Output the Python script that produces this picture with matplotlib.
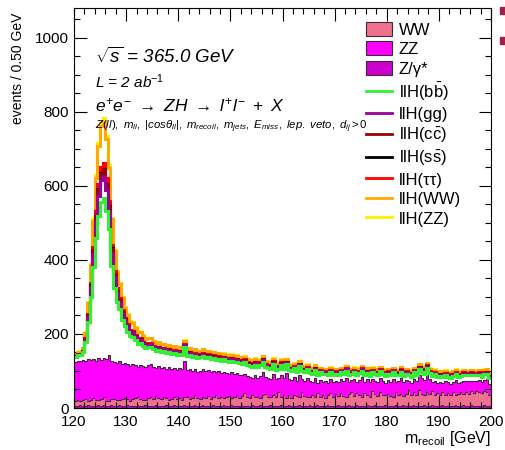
import numpy as np
import matplotlib
matplotlib.use("Agg")
import matplotlib.pyplot as plt
from matplotlib.patches import Patch, Rectangle
from matplotlib.lines import Line2D
from matplotlib.ticker import MultipleLocator

plt.rcParams['font.family'] = ['Liberation Sans', 'DejaVu Sans']
plt.rcParams['mathtext.fontset'] = 'custom'
plt.rcParams['mathtext.rm'] = 'Liberation Sans'
plt.rcParams['mathtext.it'] = 'Liberation Sans:italic'
plt.rcParams['mathtext.bf'] = 'Liberation Sans:bold'

# recoil mass binning, 0.5 GeV bins from 120 to 200
edges = np.arange(120.0, 200.01, 0.5)

# backgrounds (events per bin), stacked bottom -> top: Z/gamma*, WW, ZZ
bkg_zg = [
    6, 5, 7, 6, 5, 7, 6, 6, 5, 7,   6, 7, 5, 6, 7, 5, 6, 7, 6, 5,
    7, 6, 5, 6, 7, 6, 5, 7, 6, 6,   5, 7, 6, 6, 5, 7, 6, 5, 7, 6,
    6, 5, 7, 6, 6, 5, 7, 6, 5, 7,   6, 6, 5, 7, 6, 5, 6, 7, 6, 5,
    7, 6, 5, 6, 7, 6, 5, 6, 7, 6,   5, 7, 6, 5, 6, 7, 6, 5, 6, 7,
    6, 5, 7, 6, 5, 6, 7, 6, 5, 6,   7, 6, 5, 7, 6, 6, 5, 7, 6, 5,
    6, 7, 6, 5, 6, 7, 5, 6, 7, 6,   5, 6, 7, 6, 5, 7, 6, 6, 5, 7,
    6, 5, 6, 7, 6, 5, 7, 6, 6, 5,   7, 6, 5, 6, 7, 6, 5, 7, 6, 6,
    5, 7, 6, 6, 5, 6, 7, 5, 6, 7,   6, 5, 7, 6, 6, 5, 6, 7, 6, 5,
]
bkg_ww = [
    14, 17, 12, 16, 19, 13, 15, 20, 17, 14,   18, 22, 15, 13, 17, 20, 16, 14, 19, 21,
    16, 13, 18, 22, 24, 19, 17, 15, 20, 23,   18, 25, 21, 17, 26, 20, 16, 19, 23, 18,
    20, 17, 22, 25, 19, 23, 28, 21, 18, 24,   22, 26, 19, 24, 30, 21, 25, 19, 23, 27,
    20, 24, 29, 22, 26, 35, 24, 21, 27, 23,   25, 21, 28, 33, 24, 22, 30, 26, 36, 24,
    29, 23, 27, 22, 31, 26, 24, 38, 27, 25,   23, 30, 26, 33, 25, 28, 22, 29, 34, 26,
    31, 25, 35, 28, 24, 30, 38, 27, 33, 29,   26, 34, 29, 25, 40, 30, 27, 36, 31, 28,
    33, 28, 25, 37, 30, 34, 26, 31, 42, 29,   35, 30, 44, 32, 28, 38, 33, 40, 29, 34,
    31, 37, 28, 34, 30, 36, 27, 33, 38, 32,   36, 33, 39, 35, 40, 37, 34, 38, 36, 31,
]
bkg_zz = [
    105, 106, 107, 108, 103, 113, 108, 105, 106, 113,   106, 107, 112, 123, 104, 100, 100, 105, 94, 95,
    95, 95, 97, 88, 81, 92, 91, 88, 89, 89,   89, 76, 86, 86, 80, 79, 88, 80, 78, 79,
    81, 82, 97, 71, 81, 72, 69, 71, 78, 74,   71, 70, 73, 69, 60, 73, 63, 72, 66, 61,
    69, 62, 60, 62, 55, 52, 57, 57, 48, 59,   52, 59, 63, 45, 51, 50, 55, 46, 38, 58,
    45, 66, 44, 47, 47, 41, 59, 33, 42, 50,   42, 33, 50, 27, 44, 37, 46, 32, 37, 39,
    37, 38, 36, 40, 52, 32, 32, 46, 31, 41,   52, 31, 41, 38, 34, 37, 37, 39, 37, 33,
    36, 38, 47, 26, 37, 42, 36, 39, 24, 33,   37, 37, 40, 43, 40, 48, 39, 23, 39, 28,
    35, 23, 39, 29, 31, 29, 41, 30, 26, 35,   30, 34, 28, 31, 27, 33, 29, 31, 35, 30,
]

# llH signal contributions, stacked on top of the background in this order
sig_bb = [
    12, 14, 16, 20, 50, 100, 170, 250, 330, 385,   425, 430, 400, 340, 255, 200, 165, 140, 118, 100,
    88, 80, 73, 67, 62, 58, 55, 52, 50, 48,   46, 45, 44, 43, 42, 42, 41, 41, 40, 40,
    40, 39, 39, 38, 38, 37, 37, 36, 36, 36,   35, 35, 34, 34, 34, 33, 33, 33, 32, 32,
    32, 31, 31, 31, 30, 30, 30, 29, 29, 29,   29, 28, 28, 28, 27, 27, 27, 26, 26, 26,
    26, 25, 25, 25, 24, 24, 24, 23, 23, 23,   22, 22, 22, 21, 21, 21, 20, 20, 20, 20,
    19, 19, 19, 19, 19, 19, 18, 18, 18, 18,   18, 18, 18, 18, 18, 18, 18, 18, 18, 18,
    18, 18, 18, 18, 17, 17, 17, 17, 17, 17,   17, 17, 17, 17, 17, 17, 17, 17, 17, 17,
    16, 16, 16, 16, 16, 16, 16, 16, 16, 16,   16, 16, 16, 16, 16, 15, 15, 15, 15, 15,
]
sig_gg = [
    2, 2, 2, 3, 7, 14, 24, 35, 46, 54,   60, 60, 56, 48, 36, 28, 23, 20, 17, 14,
    12, 11, 10, 9, 8, 8, 7, 7, 6, 6,   6, 6, 5, 5, 5, 5, 5, 5, 5, 5,
    4, 4, 4, 4, 4, 4, 4, 4, 4, 4,   4, 4, 4, 4, 4, 4, 4, 4, 4, 4,
    4, 4, 4, 4, 4, 4, 4, 4, 4, 4,   4, 4, 4, 4, 4, 4, 4, 4, 4, 4,
    3, 3, 3, 3, 3, 3, 3, 3, 3, 3,   3, 3, 3, 3, 3, 3, 3, 3, 3, 3,
    3, 3, 3, 3, 3, 3, 3, 3, 3, 3,   3, 3, 3, 3, 3, 3, 3, 3, 3, 3,
    3, 3, 3, 3, 3, 3, 3, 3, 3, 3,   3, 3, 3, 3, 3, 3, 3, 3, 3, 3,
    3, 3, 3, 3, 3, 3, 3, 3, 3, 3,   3, 3, 3, 3, 3, 3, 3, 3, 3, 3,
]
sig_cc = [
    1, 1, 1, 1, 2, 4, 7, 10, 14, 16,   18, 18, 17, 14, 11, 8, 7, 6, 5, 4,
    4, 3, 3, 3, 3, 2, 2, 2, 2, 2,   2, 2, 2, 2, 2, 2, 2, 2, 2, 2,
    2, 2, 2, 2, 2, 2, 2, 2, 2, 2,   2, 2, 2, 2, 2, 2, 2, 2, 2, 2,
    2, 2, 2, 2, 2, 2, 2, 2, 2, 2,   2, 2, 2, 2, 2, 2, 2, 2, 2, 2,
    1, 1, 1, 1, 1, 1, 1, 1, 1, 1,   1, 1, 1, 1, 1, 1, 1, 1, 1, 1,
    1, 1, 1, 1, 1, 1, 1, 1, 1, 1,   1, 1, 1, 1, 1, 1, 1, 1, 1, 1,
    1, 1, 1, 1, 1, 1, 1, 1, 1, 1,   1, 1, 1, 1, 1, 1, 1, 1, 1, 1,
    1, 1, 1, 1, 1, 1, 1, 1, 1, 1,   1, 1, 1, 1, 1, 1, 1, 1, 1, 1,
]
sig_ss = [
    0, 0, 0, 0, 0, 0, 1, 1, 1, 1,   1, 1, 1, 1, 1, 1, 0, 0, 0, 0,
    0, 0, 0, 0, 0, 0, 0, 0, 0, 0,   0, 0, 0, 0, 0, 0, 0, 0, 0, 0,
    0, 0, 0, 0, 0, 0, 0, 0, 0, 0,   0, 0, 0, 0, 0, 0, 0, 0, 0, 0,
    0, 0, 0, 0, 0, 0, 0, 0, 0, 0,   0, 0, 0, 0, 0, 0, 0, 0, 0, 0,
    0, 0, 0, 0, 0, 0, 0, 0, 0, 0,   0, 0, 0, 0, 0, 0, 0, 0, 0, 0,
    0, 0, 0, 0, 0, 0, 0, 0, 0, 0,   0, 0, 0, 0, 0, 0, 0, 0, 0, 0,
    0, 0, 0, 0, 0, 0, 0, 0, 0, 0,   0, 0, 0, 0, 0, 0, 0, 0, 0, 0,
    0, 0, 0, 0, 0, 0, 0, 0, 0, 0,   0, 0, 0, 0, 0, 0, 0, 0, 0, 0,
]
sig_tautau = [
    1, 1, 1, 1, 2, 4, 6, 9, 12, 14,   16, 16, 15, 13, 10, 8, 6, 5, 5, 4,
    4, 3, 3, 3, 3, 3, 2, 2, 2, 2,   2, 2, 2, 2, 2, 2, 2, 2, 2, 2,
    2, 2, 2, 2, 2, 2, 2, 2, 2, 2,   2, 2, 2, 2, 2, 2, 2, 2, 2, 2,
    2, 2, 2, 2, 2, 2, 2, 2, 2, 2,   2, 2, 2, 2, 2, 2, 2, 2, 2, 2,
    2, 2, 2, 2, 2, 2, 2, 2, 2, 2,   2, 2, 2, 2, 2, 2, 2, 2, 2, 2,
    2, 2, 2, 2, 2, 2, 2, 2, 2, 2,   2, 2, 2, 2, 2, 2, 2, 2, 2, 2,
    2, 2, 2, 2, 2, 2, 2, 2, 2, 2,   2, 2, 2, 2, 2, 2, 2, 2, 2, 2,
    2, 2, 2, 2, 2, 2, 2, 2, 2, 2,   2, 2, 2, 2, 2, 2, 2, 2, 2, 2,
]
sig_ww = [
    5, 5, 6, 7, 15, 28, 48, 70, 90, 104,   112, 112, 105, 90, 68, 53, 44, 38, 32, 28,
    25, 22, 20, 18, 17, 16, 15, 14, 13, 13,   12, 12, 11, 11, 11, 10, 10, 10, 10, 10,
    9, 9, 9, 9, 9, 9, 9, 9, 9, 9,   8, 8, 8, 8, 8, 8, 8, 8, 8, 8,
    8, 8, 8, 8, 8, 8, 8, 8, 8, 8,   7, 7, 7, 7, 7, 7, 7, 7, 7, 7,
    7, 7, 7, 7, 7, 7, 7, 7, 7, 7,   7, 7, 7, 6, 6, 6, 6, 6, 6, 6,
    6, 6, 6, 6, 6, 6, 6, 6, 6, 6,   6, 6, 6, 6, 6, 6, 6, 6, 6, 6,
    6, 6, 6, 6, 6, 6, 6, 6, 6, 6,   6, 6, 6, 6, 6, 6, 6, 6, 6, 6,
    6, 6, 6, 6, 6, 6, 6, 6, 6, 6,   6, 6, 6, 6, 6, 6, 6, 6, 6, 6,
]
sig_zz = [
    0, 0, 1, 1, 1, 2, 4, 5, 7, 8,   9, 9, 8, 7, 5, 4, 3, 3, 3, 2,
    2, 2, 2, 2, 2, 2, 2, 2, 1, 1,   1, 1, 1, 1, 1, 1, 1, 1, 1, 1,
    1, 1, 1, 1, 1, 1, 1, 1, 1, 1,   1, 1, 1, 1, 1, 1, 1, 1, 1, 1,
    1, 1, 1, 1, 1, 1, 1, 1, 1, 1,   1, 1, 1, 1, 1, 1, 1, 1, 1, 1,
    1, 1, 1, 1, 1, 1, 1, 1, 1, 1,   1, 1, 1, 1, 1, 1, 1, 1, 1, 1,
    1, 1, 1, 1, 1, 1, 1, 1, 1, 1,   1, 1, 1, 1, 1, 1, 1, 1, 1, 1,
    1, 1, 1, 1, 1, 1, 1, 1, 1, 1,   1, 1, 1, 1, 1, 1, 1, 1, 1, 1,
    1, 1, 1, 1, 1, 1, 1, 1, 1, 1,   1, 1, 1, 1, 1, 1, 1, 1, 1, 1,
]

bkg_labels = ["Z/γ*", "WW", "ZZ"]
bkg_colors = ["#cc00cc", "#f0708f", "#ff00ff"]
sig_labels = [r"llH(b$\bar{\mathrm{b}}$)", "llH(gg)", r"llH(c$\bar{\mathrm{c}}$)",
              r"llH(s$\bar{\mathrm{s}}$)", "llH(ττ)", "llH(WW)", "llH(ZZ)"]
sig_colors = ["#33ee33", "#990099", "#990000", "#000000", "#ff0000", "#ffaa00", "#ffee00"]
edge_col = "#3a2a3a"

fig = plt.figure(figsize=(5.05, 4.5), dpi=100)
ax = fig.add_axes([74 / 505, 1 - 408 / 450, (491 - 74) / 505, 400 / 450])

# stacked backgrounds
base = np.zeros(len(edges) - 1)
for vals, col in zip([bkg_zg, bkg_ww, bkg_zz], bkg_colors):
    top = base + np.array(vals, dtype=float)
    ax.stairs(top, edges, baseline=base, fill=True, color=col, lw=0)
    ax.stairs(top, edges, baseline=None, color=edge_col, lw=0.8)
    base = top

# cumulative signal outlines; like a THStack the largest sum is drawn first
cum = base.copy()
sig_tops = []
for vals in [sig_bb, sig_gg, sig_cc, sig_ss, sig_tautau, sig_ww, sig_zz]:
    cum = cum + np.array(vals, dtype=float)
    sig_tops.append(cum)
for i in range(len(sig_tops) - 1, -1, -1):
    ax.stairs(sig_tops[i], edges, baseline=None, color=sig_colors[i], lw=2.2, zorder=2 + (7 - i) * 0.01)

ax.set_xlim(120, 200)
ax.set_ylim(0, 1080)
ax.xaxis.set_major_locator(MultipleLocator(10))
ax.xaxis.set_minor_locator(MultipleLocator(2))
ax.yaxis.set_major_locator(MultipleLocator(200))
ax.yaxis.set_minor_locator(MultipleLocator(50))
ax.tick_params(which="both", direction="in", top=True, right=True, labelsize=11, width=0.8)
ax.tick_params(which="major", length=9)
ax.tick_params(which="minor", length=4.5)
ax.tick_params(axis="x", pad=5)
for sp in ax.spines.values():
    sp.set_linewidth(0.8)

ax.set_ylabel("events / 0.50 GeV", loc="top", fontsize=10)
ax.yaxis.set_label_coords((18 - 74) / 417, (408 - 13) / 400)
ax.yaxis.label.set_va("center")
ax.set_xlabel(r"m$_{\mathrm{recoil}}$ [GeV]", loc="right", fontsize=11.5)
ax.xaxis.set_label_coords(1.0, (408 - 439) / 400)
ax.xaxis.label.set_va("center")

# annotations
fig.text(95 / 505, 1 - 57 / 450, r"$\sqrt{s}$ = 365.0 GeV", fontsize=13.5, style="italic", va="center")
fig.text(95 / 505, 1 - 82 / 450, r"L = 2 ab$^{-1}$", fontsize=11, style="italic", va="center")
fig.text(95 / 505, 1 - 105 / 450, r"$e^{+}e^{-}\ \rightarrow\ ZH\ \rightarrow\ l^{+}l^{-}\ +\ X$",
         fontsize=12.5, va="center")
fig.text(95 / 505, 1 - 127 / 450,
         r"$Z(ll),\ m_{ll},\ |cos\theta_{ll}|,\ m_{recoil},\ m_{jets},\ E_{miss},\ lep.\ veto,\ d_{ij}>0$",
         fontsize=8.2, va="center")

handles = [Patch(facecolor=bkg_colors[1], edgecolor=edge_col, lw=0.8),
           Patch(facecolor=bkg_colors[2], edgecolor=edge_col, lw=0.8),
           Patch(facecolor=bkg_colors[0], edgecolor=edge_col, lw=0.8)]
labels = [bkg_labels[1], bkg_labels[2], bkg_labels[0]]
for lab, col in zip(sig_labels, sig_colors):
    handles.append(Line2D([], [], color=col, lw=2.0))
    labels.append(lab)
leg = fig.legend(handles, labels, loc="upper left", bbox_to_anchor=(366 / 505, 1 - 22 / 450),
                 frameon=False, fontsize=12, handlelength=1.56, handleheight=0.9,
                 handletextpad=0.4, labelspacing=0.23, borderpad=0, borderaxespad=0)
leg.set_zorder(5)

# clipped markers at the right edge of the original canvas
fig.patches.append(Rectangle((500 / 505, 1 - 14 / 450), 5 / 505, 7 / 450,
                             transform=fig.transFigure, color="#a0204a"))
fig.patches.append(Rectangle((500 / 505, 1 - 44 / 450), 5 / 505, 7 / 450,
                             transform=fig.transFigure, color="#a0204a"))

fig.savefig("out.png", dpi=100)
